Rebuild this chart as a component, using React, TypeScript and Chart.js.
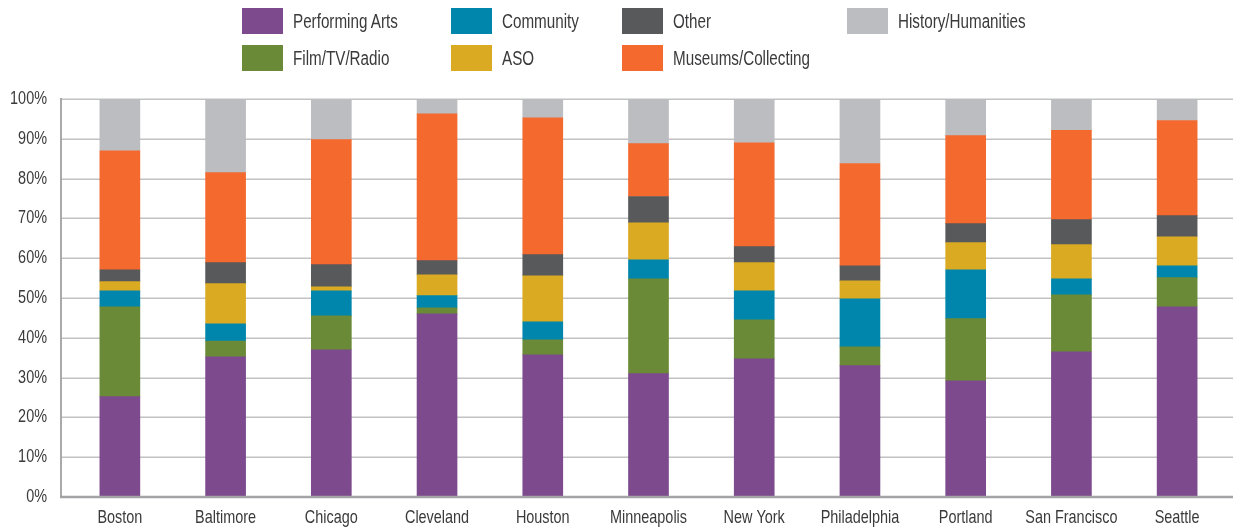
import React, { useEffect, useRef } from "react";
import { Chart, registerables } from "chart.js";

Chart.register(...registerables);

const cities = ["Boston", "Baltimore", "Chicago", "Cleveland", "Houston", "Minneapolis", "New York", "Philadelphia", "Portland", "San Francisco", "Seattle"];
const performingArts = [25.2, 35.2, 37.0, 46.0, 35.7, 31.0, 34.7, 33.0, 29.2, 36.5, 47.8];
const filmTvRadio = [22.6, 4.0, 8.5, 1.5, 3.8, 23.8, 9.8, 4.7, 15.6, 14.3, 7.3];
const community = [4.0, 4.3, 6.3, 3.1, 4.5, 4.8, 7.3, 12.1, 12.3, 4.0, 3.0];
const aso = [2.3, 10.1, 1.0, 5.2, 11.6, 9.3, 7.1, 4.5, 6.8, 8.6, 7.3];
const other = [3.0, 5.3, 5.6, 3.6, 5.3, 6.6, 4.0, 3.8, 4.8, 6.3, 5.3];
const museums = [29.9, 22.6, 31.4, 36.9, 34.4, 13.3, 26.1, 25.7, 22.1, 22.4, 23.9];
const history = [13.0, 18.5, 10.0, 3.7, 4.7, 11.2, 11.0, 16.2, 9.2, 7.9, 5.4];

const FONT = "'Liberation Sans', Arial, sans-serif";
const TEXT = "#3a3a3c";
const SQUEEZE = 0.78;

const seriesDefs = [
  { label: "Performing Arts", data: performingArts, color: "#7d4a8e" },
  { label: "Film/TV/Radio", data: filmTvRadio, color: "#6b8a37" },
  { label: "Community", data: community, color: "#0086ac" },
  { label: "ASO", data: aso, color: "#d9aa22" },
  { label: "Other", data: other, color: "#58595b" },
  { label: "Museums/Collecting", data: museums, color: "#f3692e" },
  { label: "History/Humanities", data: history, color: "#bcbdc0" },
];

const legendItems = [
  { label: "Performing Arts", x: 242, y: 8 },
  { label: "Community", x: 451, y: 8 },
  { label: "Other", x: 622, y: 8 },
  { label: "History/Humanities", x: 847, y: 8 },
  { label: "Film/TV/Radio", x: 242, y: 45 },
  { label: "ASO", x: 451, y: 45 },
  { label: "Museums/Collecting", x: 622, y: 45 },
];

function squeezedText(ctx: any, text: string, x: number, y: number, align: string, baseline: string) {
  ctx.save();
  ctx.translate(x, y);
  ctx.scale(SQUEEZE, 1);
  ctx.textAlign = align;
  ctx.textBaseline = baseline;
  ctx.fillText(text, 0, 0);
  ctx.restore();
}

const axisPlugin = {
  id: "customAxes",
  beforeDatasetsDraw(chart: any) {
    const { ctx, scales } = chart;
    const y = scales.y;
    ctx.save();
    ctx.strokeStyle = "#c2c2c4";
    ctx.lineWidth = 1.5;
    y.ticks.forEach((t: any) => {
      if (t.value === 0) return;
      const py = Math.round(y.getPixelForValue(t.value)) + 0.25;
      ctx.beginPath();
      ctx.moveTo(60, py);
      ctx.lineTo(chart.width, py);
      ctx.stroke();
    });
    ctx.restore();
  },
  afterDatasetsDraw(chart: any) {
    const { ctx, scales } = chart;
    const y = scales.y;
    const x = scales.x;
    const top = y.getPixelForValue(100);
    const bottom = y.getPixelForValue(0);
    ctx.save();
    ctx.strokeStyle = "#a9a9ab";
    ctx.lineWidth = 2;
    ctx.beginPath();
    ctx.moveTo(61, top - 1);
    ctx.lineTo(61, bottom);
    ctx.stroke();
    ctx.strokeStyle = "#a3a3a5";
    ctx.lineWidth = 2.5;
    ctx.beginPath();
    ctx.moveTo(60, bottom);
    ctx.lineTo(chart.width, bottom);
    ctx.stroke();

    ctx.fillStyle = TEXT;
    ctx.font = "18.5px " + FONT;
    y.ticks.forEach((t: any) => {
      squeezedText(ctx, t.value + "%", 47, y.getPixelForValue(t.value), "right", "middle");
    });
    (chart.data.labels as string[]).forEach((lab, i) => {
      squeezedText(ctx, lab, x.getPixelForTick(i), 523, "center", "alphabetic");
    });
    ctx.restore();
  },
};

export default function App() {
  const ref = useRef<HTMLCanvasElement>(null);

  useEffect(() => {
    document.body.style.margin = "0";
    if (!ref.current) return;
    const chart = new Chart(ref.current, {
      type: "bar",
      data: {
        labels: cities,
        datasets: seriesDefs.map((s) => ({
          label: s.label,
          data: s.data,
          backgroundColor: s.color,
          borderWidth: 0,
          barThickness: 40,
        })),
      },
      options: {
        responsive: false,
        animation: false,
        layout: { padding: { top: 99, right: 3, left: 0, bottom: 0 } },
        plugins: { legend: { display: false }, tooltip: { enabled: false } },
        scales: {
          x: {
            stacked: true,
            grid: { display: false, drawTicks: false },
            border: { display: false },
            ticks: { display: false, autoSkip: false, maxRotation: 0 },
            afterFit(scale: any) {
              scale.height = 32;
            },
          },
          y: {
            stacked: true,
            min: 0,
            max: 100,
            grid: { display: false, drawTicks: false },
            border: { display: false },
            ticks: { display: false, stepSize: 10 },
            afterFit(scale: any) {
              scale.width = 67;
            },
          },
        },
      },
      plugins: [axisPlugin],
    });
    return () => chart.destroy();
  }, []);

  return (
    <div style={{ position: "relative", width: 1233, height: 529, background: "#fff", fontFamily: FONT }}>
      <canvas ref={ref} width={1233} height={529} style={{ position: "absolute", left: 0, top: 0 }} />
      {legendItems.map((it) => {
        const def = seriesDefs.find((s) => s.label === it.label)!;
        return (
          <div key={it.label}>
            <div
              style={{
                position: "absolute",
                left: it.x,
                top: it.y,
                width: 41,
                height: 26,
                background: def.color,
              }}
            />
            <div
              style={{
                position: "absolute",
                left: it.x + 51,
                top: it.y,
                height: 26,
                lineHeight: "26px",
                fontSize: 19.5,
                color: TEXT,
                whiteSpace: "nowrap",
                transform: `scaleX(${SQUEEZE})`,
                transformOrigin: "0 50%",
              }}
            >
              {it.label}
            </div>
          </div>
        );
      })}
    </div>
  );
}
